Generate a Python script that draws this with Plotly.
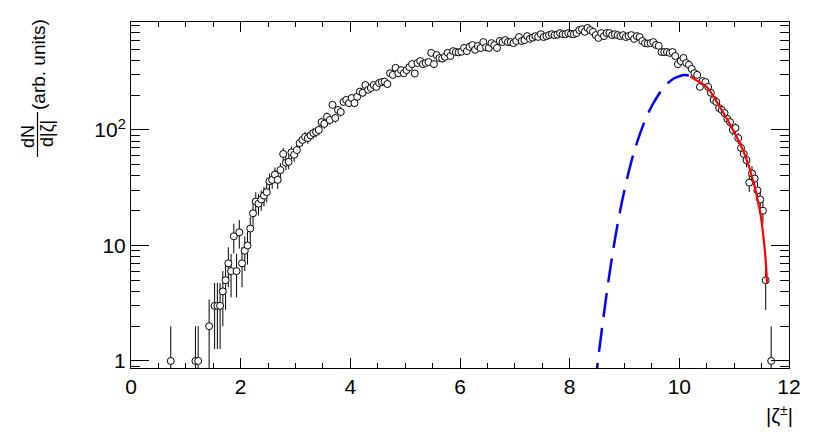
import numpy as np
import plotly.graph_objects as go

# histogram: bin width 0.05, first bin centred at 0.025; zero bins are not drawn
bin_width = 0.05
counts = [
    0, 0, 0, 0, 0, 0, 0, 0, 0, 0, 0, 0, 0, 0, 1, 0, 0, 0, 0, 0,
    0, 0, 0, 1, 1, 0, 0, 0, 2, 0, 3, 3, 3, 4, 5, 7, 6, 12, 6, 13,
    7, 9, 10, 14, 19, 24, 23, 25, 27, 29, 36, 37, 41, 37, 45, 62, 52, 53, 64, 61,
    67, 77, 82, 87, 85, 90, 94, 96, 100, 117, 113, 130, 122, 165, 127, 149, 143, 175, 182, 171,
    189, 171, 194, 215, 210, 245, 223, 231, 245, 236, 255, 260, 262, 250, 310, 300, 345, 310, 330, 310,
    330, 350, 372, 308, 380, 395, 372, 380, 388, 465, 372, 445, 420, 415, 430, 465, 437, 482, 473, 470,
    476, 513, 482, 525, 543, 495, 533, 513, 577, 520, 513, 565, 543, 513, 590, 577, 600, 577, 577, 565,
    590, 638, 590, 600, 650, 615, 630, 650, 640, 675, 638, 650, 663, 675, 663, 670, 690, 675, 675, 690,
    680, 675, 690, 733, 745, 708, 765, 733, 708, 663, 627, 690, 650, 690, 690, 663, 675, 663, 650, 663,
    638, 650, 663, 615, 650, 638, 590, 565, 560, 565, 577, 545, 535, 473, 473, 473, 465, 473, 437, 372,
    395, 420, 380, 367, 338, 310, 300, 236, 265, 260, 236, 210, 182, 175, 155, 149, 140, 125, 117, 100,
    104, 85, 70, 62, 55, 35, 42, 38, 30, 25, 20, 5, 0, 1,
]

# extrapolated component (blue dashed) and fit (red)
blue_x = [8.46, 8.5, 8.6, 8.7, 8.8, 8.9, 9.0, 9.1, 9.2, 9.3, 9.4, 9.5, 9.6, 9.7, 9.8, 9.9, 10.0, 10.1, 10.2]
blue_y = [0.60, 0.87, 2.09, 4.68, 9.55, 17.8, 30.2, 47.9, 70.8, 97.7, 129, 162, 195, 229, 257, 279, 292, 299, 295]
red_x = [10.2, 10.35, 10.5, 10.74, 10.98, 11.16, 11.29, 11.47, 11.56, 11.6]
red_y = [290, 262, 236, 158, 100, 67, 45, 20, 9, 4.7]

y_tickvals = [1, 10, 100]
y_ticktext = ["1", "10", "10<sup>2</sup>"]
y_minor = [0.9, 2, 3, 4, 5, 6, 7, 8, 9, 20, 30, 40, 50, 60, 70, 80, 90,
           200, 300, 400, 500, 600, 700, 800]

# the page body has an 8px margin, so the figure is 8px smaller and sits at (8, 8)
OFF = 8
W, H = 830 - OFF, 440 - OFF
L, R, T, B = 131 - OFF, 41, 22 - OFF, 72
FONT = "Liberation Sans, Arial, Helvetica, sans-serif"


def px(xp):
    # window pixel -> paper x
    return (xp - OFF - L) / (W - L - R)


def py(yp):
    # window pixel -> paper y
    return 1 - (yp - OFF - T) / (H - T - B)


counts = np.array(counts, dtype=float)
centres = bin_width * (np.arange(len(counts)) + 0.5)
keep = counts > 0
zeta = centres[keep]
n = counts[keep]
err_up = np.sqrt(n)
err_down = np.minimum(np.sqrt(n), n * 0.999)

fig = go.Figure()
fig.add_trace(go.Scatter(
    x=blue_x, y=blue_y, mode="lines", line=dict(color="#0000ff", width=2.5, dash="24px,11px", shape="spline"),
    hoverinfo="skip",
))
fig.add_trace(go.Scatter(
    x=zeta, y=n, mode="markers",
    marker=dict(symbol="circle", size=7, color="white", line=dict(color="black", width=1)),
    error_y=dict(type="data", array=err_up, arrayminus=err_down, color="black", thickness=1, width=0),
))
fig.add_trace(go.Scatter(
    x=red_x, y=red_y, mode="lines", line=dict(color="#ff0000", width=2.2, shape="spline"),
    hoverinfo="skip",
))

axis_common = dict(
    showline=True, linecolor="black", linewidth=1, mirror="ticks", ticks="inside",
    tickcolor="black", showgrid=False, zeroline=False,
    tickfont=dict(family=FONT, size=21, color="black"),
)
fig.update_xaxes(range=[0, 12], dtick=2, tick0=0, ticklen=10,
                 minor=dict(ticks="inside", dtick=0.5, ticklen=5, tickcolor="black"), **axis_common)
fig.update_yaxes(type="log", range=[-0.061, 2.935], tickvals=y_tickvals, ticktext=y_ticktext, ticklen=18,
                 minor=dict(ticks="inside", tickvals=y_minor, ticklen=9, tickcolor="black"), **axis_common)

ann = dict(xref="paper", yref="paper", showarrow=False, textangle=-90, xanchor="center", yanchor="middle",
           font=dict(family=FONT, size=19, color="black"))
fig.add_annotation(x=px(38), y=py(65), text="(arb. units)", **ann)
frac = dict(ann, font=dict(family=FONT, size=18, color="black"))
fig.add_annotation(x=px(28), y=py(137), text="dN", **frac)
fig.add_annotation(x=px(47), y=py(134), text="d|ζ|", **frac)
fig.add_shape(type="line", xref="paper", yref="paper", x0=px(37.5), x1=px(37.5), y0=py(112), y1=py(157),
              line=dict(color="black", width=1.2))
fig.add_annotation(x=px(779), y=py(414), text="|ζ<sup>±</sup>|", xref="paper", yref="paper", showarrow=False,
                   xanchor="center", yanchor="middle", font=dict(family=FONT, size=20, color="black"))

fig.update_layout(
    width=W, height=H, margin=dict(l=L, r=R, t=T, b=B),
    paper_bgcolor="white", plot_bgcolor="white", showlegend=False,
)
fig.write_html("out.html")
